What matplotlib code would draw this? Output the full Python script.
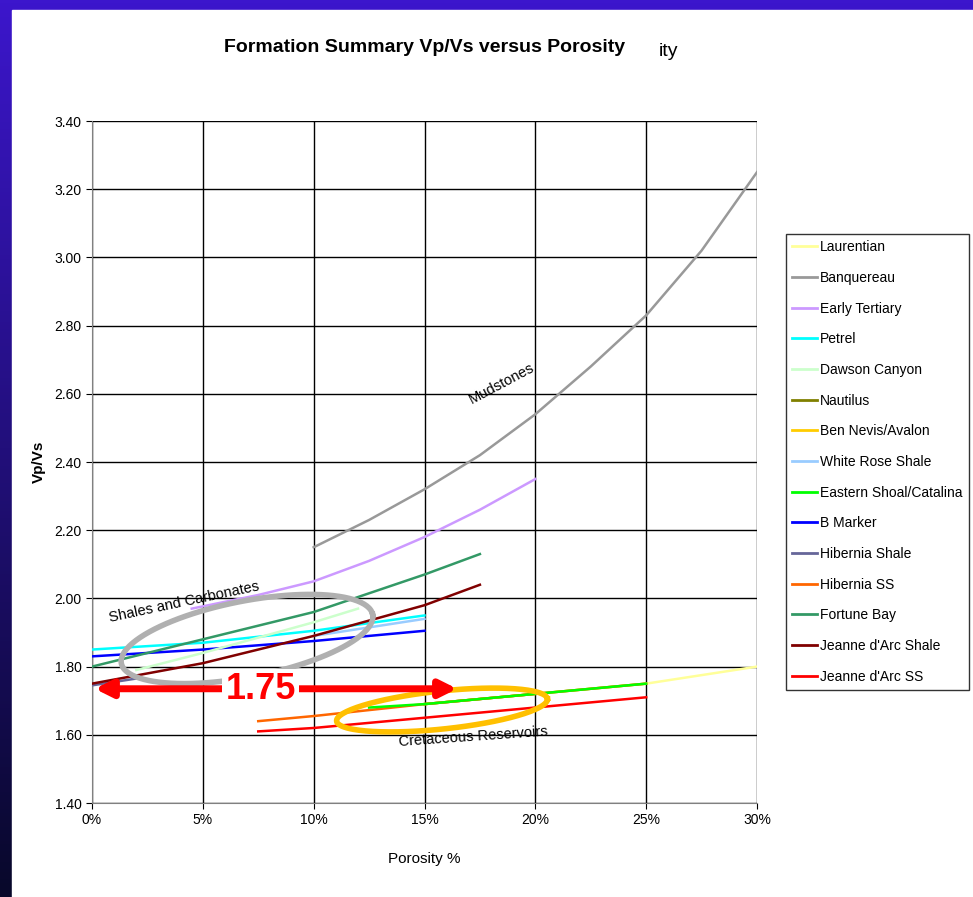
import numpy as np
import matplotlib
matplotlib.use("Agg")
import matplotlib.pyplot as plt
from matplotlib.ticker import FuncFormatter
from matplotlib.lines import Line2D

plt.rcParams['font.family'] = ['Liberation Sans', 'DejaVu Sans']

# porosity (fraction) and Vp/Vs values
names = ["Laurentian", "Banquereau", "Early Tertiary", "Petrel", "Dawson Canyon",
         "Nautilus", "Ben Nevis/Avalon", "White Rose Shale", "Eastern Shoal/Catalina",
         "B Marker", "Hibernia Shale", "Hibernia SS", "Fortune Bay",
         "Jeanne d'Arc Shale", "Jeanne d'Arc SS"]
colors = ["#ffff99", "#999999", "#cc99ff", "#00ffff", "#ccffcc",
          "#808000", "#ffcc00", "#99ccff", "#00ff00",
          "#0000ff", "#666699", "#ff6600", "#339966",
          "#800000", "#ff0000"]
laurentian_x = [0.25, 0.275, 0.30]
laurentian_y = [1.75, 1.775, 1.80]
banquereau_x = [0.10, 0.125, 0.15, 0.175, 0.20, 0.225, 0.25, 0.275, 0.30]
banquereau_y = [2.15, 2.23, 2.32, 2.42, 2.54, 2.68, 2.83, 3.02, 3.25]
tertiary_x = [0.045, 0.075, 0.10, 0.125, 0.15, 0.175, 0.20]
tertiary_y = [1.97, 2.01, 2.05, 2.11, 2.18, 2.26, 2.35]
petrel_x = [0.0, 0.05, 0.10, 0.15]
petrel_y = [1.85, 1.87, 1.905, 1.95]
dawson_x = [0.02, 0.05, 0.075, 0.10, 0.12]
dawson_y = [1.79, 1.84, 1.885, 1.93, 1.97]
nautilus_x = [0.15, 0.20]
nautilus_y = [1.69, 1.72]
bennevis_x = [0.15, 0.20, 0.25]
bennevis_y = [1.69, 1.72, 1.75]
whiterose_x = [0.10, 0.125, 0.15]
whiterose_y = [1.89, 1.915, 1.94]
eastern_x = [0.125, 0.15, 0.20, 0.25]
eastern_y = [1.68, 1.69, 1.72, 1.75]
bmarker_x = [0.0, 0.05, 0.10, 0.15]
bmarker_y = [1.83, 1.85, 1.875, 1.905]
hibshale_x = [0.0, 0.02]
hibshale_y = [1.745, 1.765]
hibss_x = [0.075, 0.10, 0.15, 0.20, 0.25]
hibss_y = [1.64, 1.655, 1.69, 1.72, 1.75]
fortune_x = [0.0, 0.05, 0.10, 0.15, 0.175]
fortune_y = [1.80, 1.88, 1.96, 2.07, 2.13]
jdashale_x = [0.0, 0.05, 0.10, 0.15, 0.175]
jdashale_y = [1.75, 1.81, 1.89, 1.98, 2.04]
jdass_x = [0.075, 0.10, 0.15, 0.20, 0.25]
jdass_y = [1.61, 1.62, 1.65, 1.68, 1.71]

xs = [laurentian_x, banquereau_x, tertiary_x, petrel_x, dawson_x, nautilus_x, bennevis_x,
      whiterose_x, eastern_x, bmarker_x, hibshale_x, hibss_x, fortune_x, jdashale_x, jdass_x]
ys = [laurentian_y, banquereau_y, tertiary_y, petrel_y, dawson_y, nautilus_y, bennevis_y,
      whiterose_y, eastern_y, bmarker_y, hibshale_y, hibss_y, fortune_y, jdashale_y, jdass_y]
# drawing order so the visible top lines match the slide
order = [5, 6, 0, 1, 2, 7, 3, 9, 4, 12, 10, 13, 11, 8, 14]

W, H = 973, 897
fig = plt.figure(figsize=(W / 100, H / 100), dpi=100)

# slide background: blue gradient with white panel
bg = fig.add_axes([0, 0, 1, 1])
grad = np.linspace(0, 1, 256)[:, None]
top = np.array([0x3c, 0x16, 0xcc]) / 255
bot = np.array([0x08, 0x08, 0x2a]) / 255
img = top[None, None, :] * (1 - grad[..., None]) + bot[None, None, :] * grad[..., None]
bg.imshow(img, aspect='auto', extent=[0, 1, 0, 1])
bg.add_patch(plt.Rectangle((12 / W, 0), 1, 1 - 10 / H, color='white'))
bg.set_xlim(0, 1)
bg.set_ylim(0, 1)
bg.axis('off')

ax = fig.add_axes([92 / W, (H - 803) / H, 665 / W, 682 / H])
for i in order:
    ax.plot(xs[i], ys[i], color=colors[i], lw=1.8, zorder=3)

ax.set_xlim(0, 0.30)
ax.set_ylim(1.40, 3.40)
ax.set_xticks(np.arange(0, 0.301, 0.05))
ax.set_yticks(np.arange(1.4, 3.401, 0.2))
ax.xaxis.set_major_formatter(FuncFormatter(lambda v, p: f"{v * 100:.0f}%"))
ax.yaxis.set_major_formatter(FuncFormatter(lambda v, p: f"{v:.2f}"))
ax.grid(True, color='black', lw=1)
ax.tick_params(labelsize=10, direction='out', length=4)
for s in ax.spines.values():
    s.set_color('#808080')
ax.spines['top'].set_visible(False)
ax.spines['right'].set_visible(False)
ax.set_xlabel("Porosity %", fontsize=11, labelpad=18)
ax.set_ylabel("Vp/Vs", fontsize=11, fontweight='bold', labelpad=6)


def px_to_data(px, py):
    return (px - 92) / 665 * 0.30, 1.40 + (803 - py) / 682 * 2.0


def ellipse(cx, cy, a, b, ang, **kw):
    t = np.linspace(0, 2 * np.pi, 200)
    r = np.deg2rad(ang)
    ex = cx + a * np.cos(t) * np.cos(r) - b * np.sin(t) * np.sin(r)
    ey = cy - (a * np.cos(t) * np.sin(r) + b * np.sin(t) * np.cos(r))
    dx, dy = px_to_data(ex, ey)
    ax.plot(dx, dy, clip_on=False, **kw)


ellipse(247, 639, 128, 38, 11, color='#b0b0b0', lw=4, zorder=5)
ellipse(442, 710, 106, 19, 6, color='#ffc000', lw=4, zorder=5)

ax.annotate("", xy=(0.0, 1.735), xytext=(0.166, 1.735),
            arrowprops=dict(arrowstyle='<|-|>', color='red', lw=5, mutation_scale=25), zorder=6)
ax.text(0.076, 1.733, "1.75", color='red', fontsize=26, fontweight='bold',
        ha='center', va='center',
        bbox=dict(facecolor='white', edgecolor='none', pad=2), zorder=7)

ann = dict(fontsize=10.5, zorder=8)
ax.text(0.169, 2.63, "Mudstones", rotation=28, ha='left', va='center', **ann)
ax.text(0.007, 1.99, "Shales and Carbonates", rotation=12, ha='left', va='center', **ann)
ax.text(0.138, 1.595, "Cretaceous Reservoirs", rotation=4, ha='left', va='center', **ann)

handles = [Line2D([], [], color=c, lw=2) for c in colors]
leg = fig.legend(handles, names, loc='upper left', bbox_to_anchor=(786 / W, 1 - 234 / H),
                 fontsize=10, frameon=True, fancybox=False, edgecolor='black',
                 handlelength=1.8, handletextpad=0.2, labelspacing=1.2, borderpad=0.45,
                 borderaxespad=0)
leg.get_frame().set_linewidth(1)

fig.text(425 / W, 1 - 48 / H, "Formation Summary Vp/Vs versus Porosity", ha='center', va='center',
         fontsize=14, fontweight='bold')
fig.text(668 / W, 1 - 52 / H, "ity", ha='center', va='center', fontsize=14)

fig.savefig("out.png", dpi=100)
